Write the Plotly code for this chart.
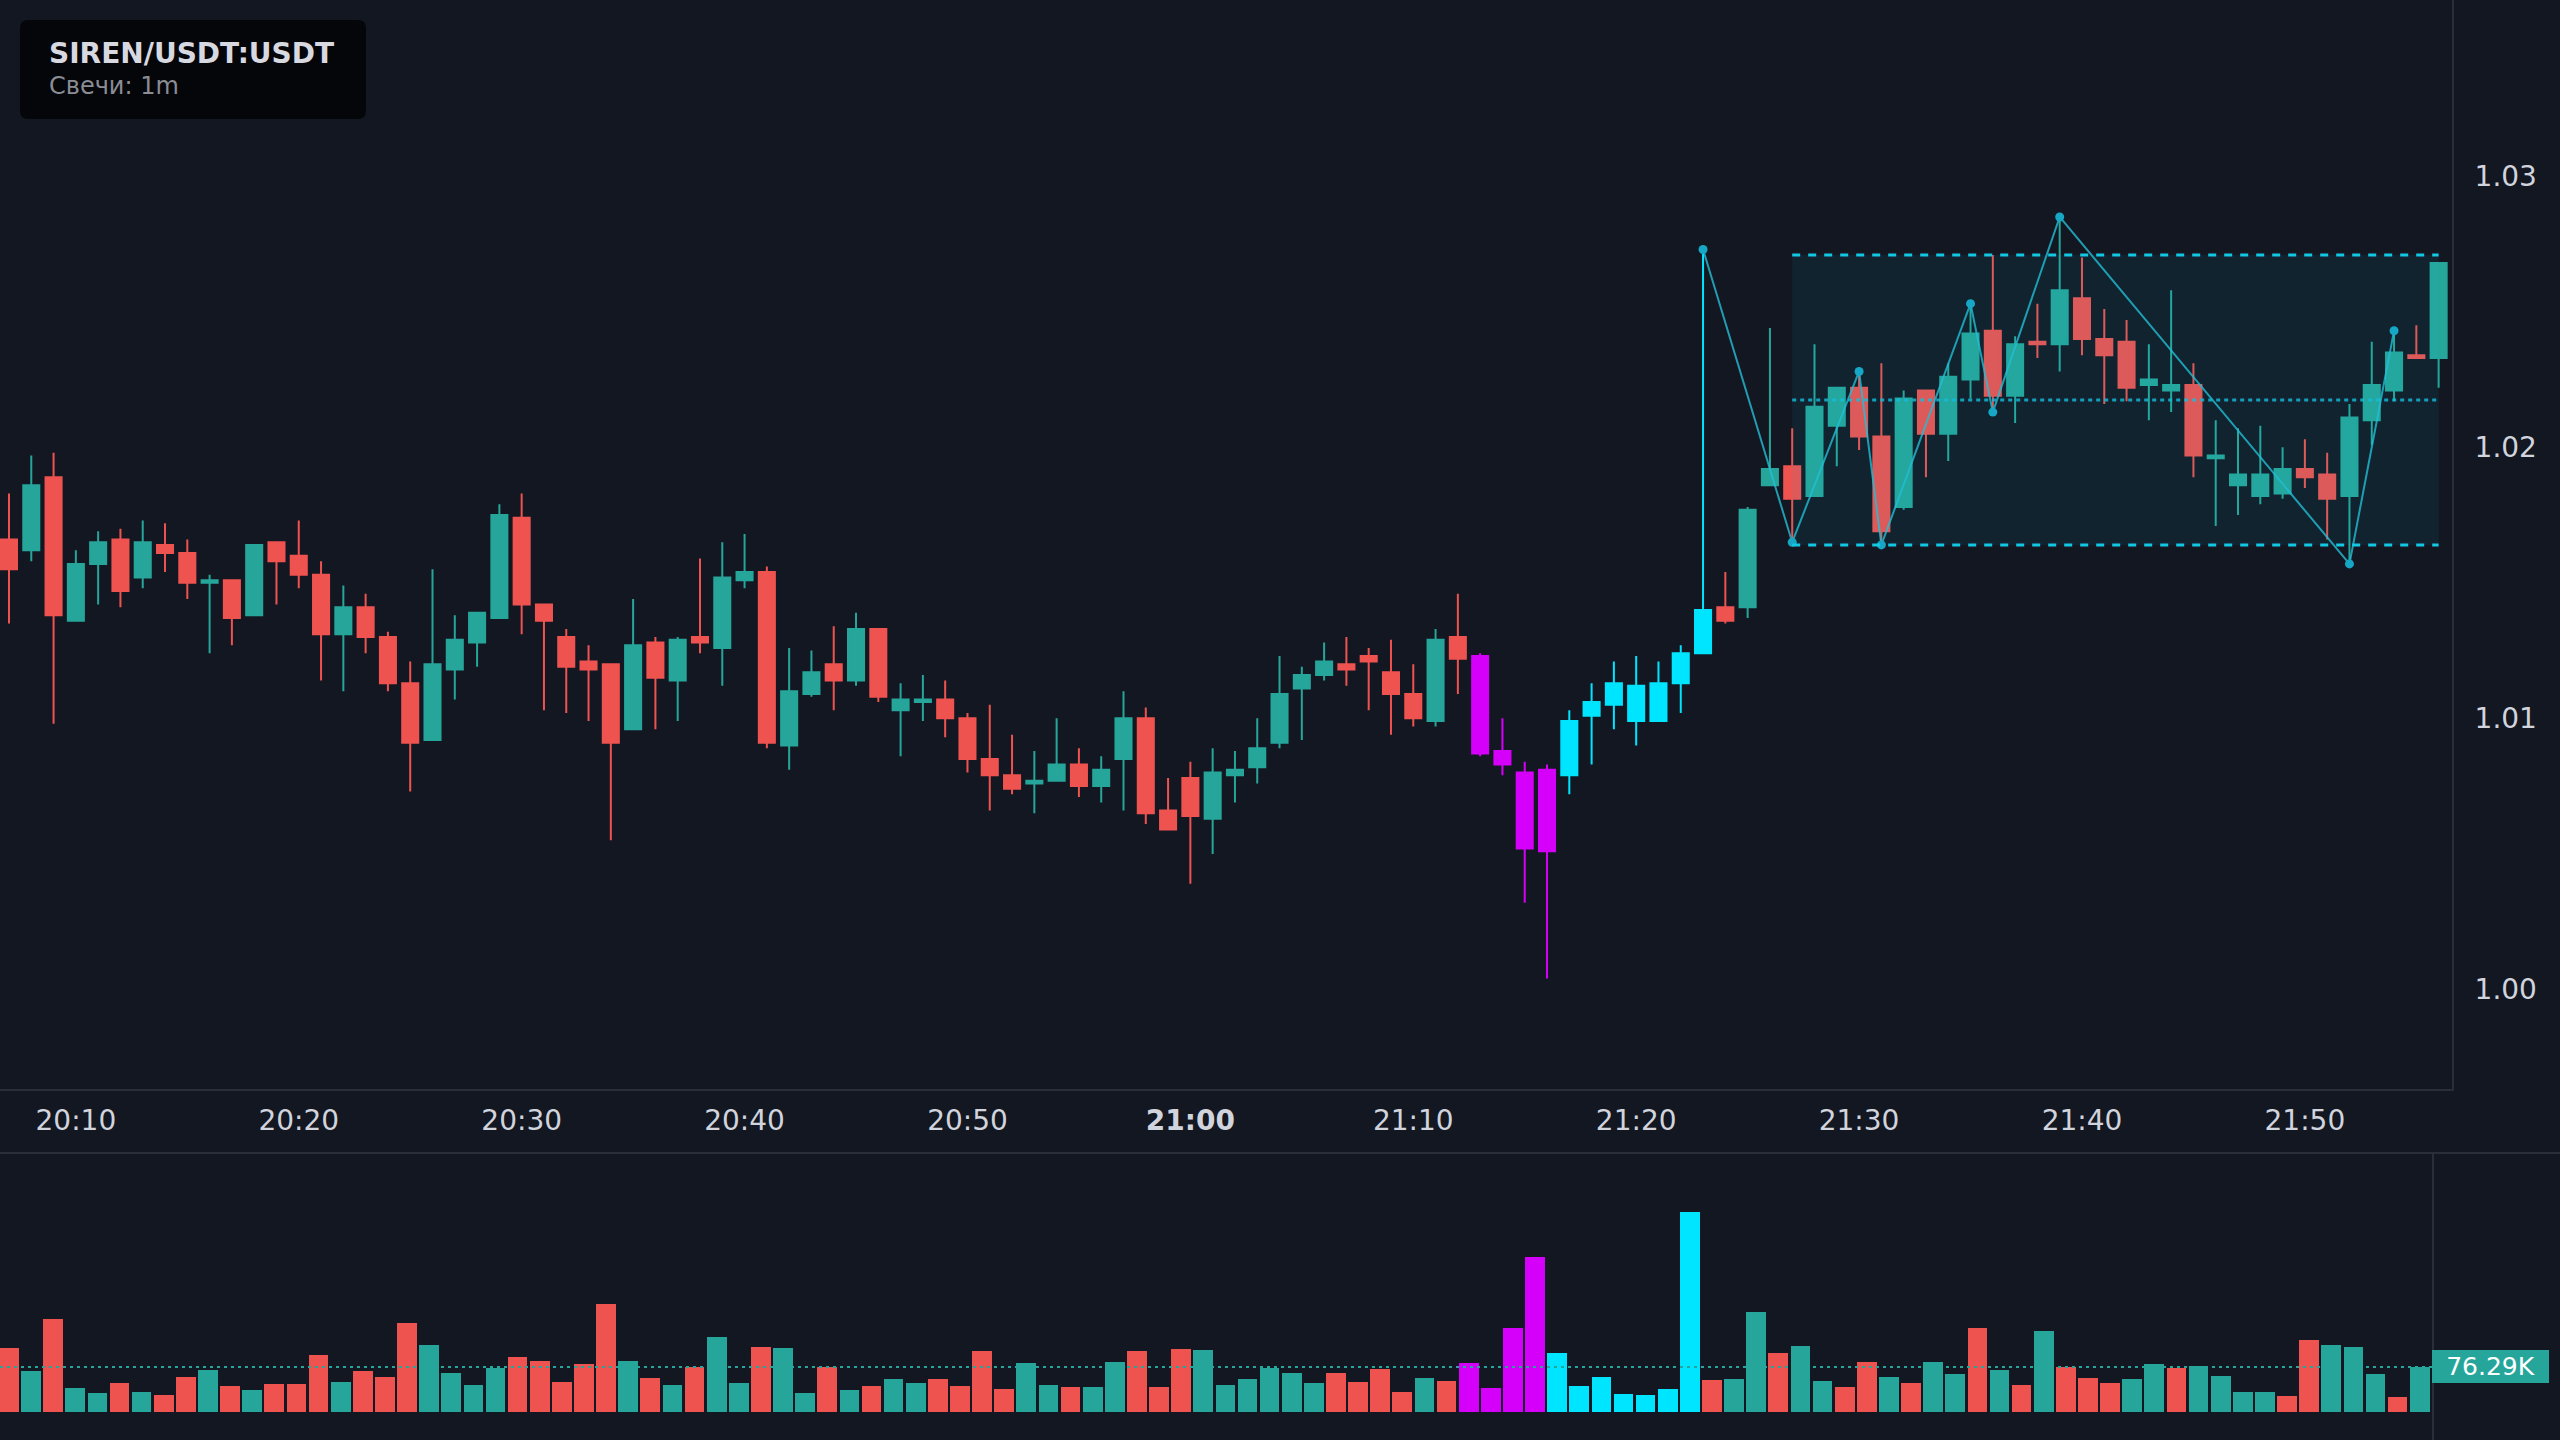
import plotly.graph_objects as go

# ---------------- data ----------------
times = [
    "20:07", "20:08", "20:09", "20:10", "20:11", "20:12", "20:13", "20:14", "20:15", "20:16",
    "20:17", "20:18", "20:19", "20:20", "20:21", "20:22", "20:23", "20:24", "20:25", "20:26",
    "20:27", "20:28", "20:29", "20:30", "20:31", "20:32", "20:33", "20:34", "20:35", "20:36",
    "20:37", "20:38", "20:39", "20:40", "20:41", "20:42", "20:43", "20:44", "20:45", "20:46",
    "20:47", "20:48", "20:49", "20:50", "20:51", "20:52", "20:53", "20:54", "20:55", "20:56",
    "20:57", "20:58", "20:59", "21:00", "21:01", "21:02", "21:03", "21:04", "21:05", "21:06",
    "21:07", "21:08", "21:09", "21:10", "21:11", "21:12", "21:13", "21:14", "21:15", "21:16",
    "21:17", "21:18", "21:19", "21:20", "21:21", "21:22", "21:23", "21:24", "21:25", "21:26",
    "21:27", "21:28", "21:29", "21:30", "21:31", "21:32", "21:33", "21:34", "21:35", "21:36",
    "21:37", "21:38", "21:39", "21:40", "21:41", "21:42", "21:43", "21:44", "21:45", "21:46",
    "21:47", "21:48", "21:49", "21:50", "21:51", "21:52", "21:53", "21:54", "21:55", "21:56",
]

opens = [
    1.0166, 1.0162, 1.0189, 1.0136, 1.0157, 1.0166, 1.0152, 1.0164, 1.0161, 1.0150,
    1.0151, 1.0138, 1.0165, 1.0160, 1.0153, 1.0131, 1.0141, 1.0130, 1.0113, 1.0092,
    1.0118, 1.0128, 1.0137, 1.0174, 1.0142, 1.0130, 1.0121, 1.0120, 1.0096, 1.0128,
    1.0114, 1.0130, 1.0126, 1.0151, 1.0154, 1.0090, 1.0109, 1.0120, 1.0114, 1.0133,
    1.0103, 1.0106, 1.0107, 1.0100, 1.0085, 1.0079, 1.0076, 1.0077, 1.0083, 1.0075,
    1.0085, 1.0100, 1.0066, 1.0078, 1.0063, 1.0079, 1.0082, 1.0091, 1.0111, 1.0116,
    1.0120, 1.0123, 1.0117, 1.0109, 1.0099, 1.0130, 1.0123, 1.0088, 1.0080, 1.0051,
    1.0079, 1.0101, 1.0105, 1.0112, 1.0099, 1.0113, 1.0124, 1.0141, 1.0141, 1.0186,
    1.0193, 1.0182, 1.0208, 1.0222, 1.0204, 1.0178, 1.0221, 1.0205, 1.0225, 1.0243,
    1.0219, 1.0239, 1.0238, 1.0255, 1.0240, 1.0239, 1.0223, 1.0221, 1.0223, 1.0196,
    1.0186, 1.0182, 1.0183, 1.0192, 1.0190, 1.0182, 1.0210, 1.0221, 1.0234, 1.0233,
]

highs = [
    1.0183, 1.0197, 1.0198, 1.0162, 1.0169, 1.0170, 1.0173, 1.0172, 1.0166, 1.0153,
    1.0151, 1.0164, 1.0165, 1.0173, 1.0158, 1.0149, 1.0146, 1.0132, 1.0121, 1.0155,
    1.0138, 1.0139, 1.0179, 1.0183, 1.0142, 1.0133, 1.0127, 1.0120, 1.0144, 1.0130,
    1.0130, 1.0159, 1.0165, 1.0168, 1.0156, 1.0126, 1.0125, 1.0134, 1.0139, 1.0133,
    1.0113, 1.0116, 1.0114, 1.0102, 1.0105, 1.0094, 1.0088, 1.0100, 1.0089, 1.0086,
    1.0110, 1.0104, 1.0078, 1.0084, 1.0089, 1.0088, 1.0100, 1.0123, 1.0119, 1.0128,
    1.0130, 1.0126, 1.0129, 1.0120, 1.0133, 1.0146, 1.0124, 1.0100, 1.0084, 1.0083,
    1.0103, 1.0113, 1.0121, 1.0123, 1.0121, 1.0127, 1.0273, 1.0154, 1.0178, 1.0244,
    1.0207, 1.0238, 1.0222, 1.0228, 1.0231, 1.0221, 1.0221, 1.0231, 1.0253, 1.0271,
    1.0241, 1.0253, 1.0285, 1.0270, 1.0251, 1.0247, 1.0238, 1.0258, 1.0231, 1.0210,
    1.0207, 1.0208, 1.0200, 1.0203, 1.0198, 1.0216, 1.0239, 1.0243, 1.0245, 1.0268,
]

lows = [
    1.0135, 1.0158, 1.0098, 1.0136, 1.0142, 1.0141, 1.0148, 1.0154, 1.0144, 1.0124,
    1.0127, 1.0138, 1.0142, 1.0148, 1.0114, 1.0110, 1.0124, 1.0110, 1.0073, 1.0092,
    1.0107, 1.0119, 1.0137, 1.0131, 1.0103, 1.0102, 1.0099, 1.0055, 1.0096, 1.0096,
    1.0099, 1.0124, 1.0112, 1.0148, 1.0089, 1.0081, 1.0108, 1.0103, 1.0112, 1.0106,
    1.0086, 1.0099, 1.0093, 1.0080, 1.0066, 1.0072, 1.0065, 1.0077, 1.0071, 1.0069,
    1.0066, 1.0061, 1.0059, 1.0039, 1.0050, 1.0069, 1.0076, 1.0089, 1.0092, 1.0114,
    1.0112, 1.0103, 1.0094, 1.0097, 1.0097, 1.0109, 1.0086, 1.0079, 1.0032, 1.0004,
    1.0072, 1.0083, 1.0096, 1.0090, 1.0099, 1.0102, 1.0124, 1.0135, 1.0137, 1.0186,
    1.0165, 1.0182, 1.0193, 1.0199, 1.0164, 1.0177, 1.0189, 1.0195, 1.0218, 1.0213,
    1.0209, 1.0233, 1.0228, 1.0234, 1.0216, 1.0217, 1.0210, 1.0213, 1.0189, 1.0171,
    1.0175, 1.0179, 1.0181, 1.0185, 1.0166, 1.0157, 1.0201, 1.0217, 1.0233, 1.0222,
]

closes = [
    1.0155, 1.0186, 1.0138, 1.0157, 1.0165, 1.0147, 1.0165, 1.0161, 1.0150, 1.0151,
    1.0137, 1.0164, 1.0158, 1.0153, 1.0131, 1.0141, 1.0130, 1.0113, 1.0091, 1.0120,
    1.0129, 1.0139, 1.0175, 1.0142, 1.0136, 1.0119, 1.0118, 1.0091, 1.0127, 1.0115,
    1.0129, 1.0128, 1.0152, 1.0154, 1.0091, 1.0110, 1.0117, 1.0114, 1.0133, 1.0108,
    1.0107, 1.0107, 1.0100, 1.0085, 1.0079, 1.0074, 1.0077, 1.0083, 1.0075, 1.0081,
    1.0100, 1.0065, 1.0059, 1.0064, 1.0080, 1.0081, 1.0089, 1.0109, 1.0116, 1.0121,
    1.0118, 1.0121, 1.0109, 1.0100, 1.0129, 1.0122, 1.0087, 1.0083, 1.0052, 1.0081,
    1.0099, 1.0106, 1.0113, 1.0099, 1.0113, 1.0124, 1.0140, 1.0136, 1.0177, 1.0192,
    1.0181, 1.0215, 1.0222, 1.0204, 1.0169, 1.0218, 1.0205, 1.0226, 1.0242, 1.0219,
    1.0238, 1.0238, 1.0258, 1.0240, 1.0234, 1.0222, 1.0225, 1.0223, 1.0197, 1.0197,
    1.0190, 1.0190, 1.0192, 1.0189, 1.0181, 1.0211, 1.0223, 1.0235, 1.0233, 1.0268,
]

volumes_k = [
    107.9, 68.9, 157.1, 40.1, 31.6, 48.6, 33.3, 28.3, 58.8, 70.6,
    43.5, 36.7, 46.9, 46.9, 96.1, 50.3, 68.9, 58.8, 150.3, 113.0,
    65.5, 45.2, 74.0, 92.7, 85.9, 50.3, 80.8, 182.5, 85.9, 57.1,
    45.2, 75.7, 126.6, 48.6, 109.6, 107.9, 31.6, 75.7, 36.7, 43.5,
    55.4, 48.6, 55.4, 43.5, 102.8, 38.4, 82.5, 45.2, 41.8, 41.8,
    84.2, 102.8, 41.8, 106.2, 104.5, 45.2, 55.4, 74.0, 65.5, 48.6,
    65.5, 50.3, 72.3, 33.3, 57.1, 52.0, 82.5, 40.1, 141.8, 262.2,
    99.4, 43.5, 58.8, 29.9, 28.3, 38.4, 339.0, 53.7, 55.4, 168.9,
    99.4, 111.3, 52.0, 41.8, 84.2, 58.8, 48.6, 84.2, 63.8, 141.8,
    70.6, 45.2, 136.7, 75.7, 57.1, 48.6, 55.4, 80.8, 74.0, 77.4,
    60.5, 33.3, 33.3, 26.6, 121.5, 113.0, 109.6, 63.8, 24.9, 76.29,
]

sell_zone = ["21:13", "21:14", "21:15", "21:16"]
buy_zone = ["21:17", "21:18", "21:19", "21:20", "21:21", "21:22", "21:23"]

pivot_times = ["21:23", "21:27", "21:30", "21:31", "21:35", "21:36", "21:39", "21:52", "21:54"]
pivot_prices = [1.0273, 1.0165, 1.0228, 1.0164, 1.0253, 1.0213, 1.0285, 1.0157, 1.0243]

box_start = "21:27"
box_end = "21:56"
box_top = 1.0271
box_bottom = 1.0164

price_ticks = [1.00, 1.01, 1.02, 1.03]
time_ticks = ["20:10", "20:20", "20:30", "20:40", "20:50", "21:00", "21:10", "21:20", "21:30", "21:40", "21:50"]
bold_tick = "21:00"
last_volume_label = "76.29K"

symbol = "SIREN/USDT:USDT"
subtitle = "Свечи: 1m"

# ---------------- style ----------------
BG = "#131722"
UP = "#26a69a"
DOWN = "#ef5350"
SELL = "#d500f9"
BUY = "#00e5ff"
AXIS_LINE = "#2a2e39"
TICK_COLOR = "#d1d4dc"
FONT = "DejaVu Sans"
W, H = 2560, 1440
DAY = "2025-01-01 "


def ts(t):
    return DAY + t + ":00"


x_all = [ts(t) for t in times]
x_range = [DAY + "20:06:35.8", DAY + "21:56:36"]

fig = go.Figure()


def add_candles(idx, up_col, down_col):
    fig.add_trace(go.Candlestick(
        x=[x_all[i] for i in idx],
        open=[opens[i] for i in idx],
        high=[highs[i] for i in idx],
        low=[lows[i] for i in idx],
        close=[closes[i] for i in idx],
        increasing=dict(line=dict(color=up_col, width=2), fillcolor=up_col),
        decreasing=dict(line=dict(color=down_col, width=2), fillcolor=down_col),
        whiskerwidth=0,
        xaxis="x", yaxis="y",
        hoverinfo="skip",
        showlegend=False,
    ))


normal_idx = [i for i, t in enumerate(times) if t not in sell_zone and t not in buy_zone]
sell_idx = [i for i, t in enumerate(times) if t in sell_zone]
buy_idx = [i for i, t in enumerate(times) if t in buy_zone]
add_candles(normal_idx, UP, DOWN)
add_candles(sell_idx, SELL, SELL)
add_candles(buy_idx, BUY, BUY)

# zigzag
fig.add_trace(go.Scatter(
    x=[ts(t) for t in pivot_times], y=pivot_prices,
    mode="lines+markers",
    line=dict(color="rgba(38,190,214,0.8)", width=2),
    marker=dict(size=9, color="#17a6c4"),
    xaxis="x", yaxis="y", hoverinfo="skip", showlegend=False,
))

# volume
vol_colors = []
for t, o, c in zip(times, opens, closes):
    if t in sell_zone:
        vol_colors.append(SELL)
    elif t in buy_zone:
        vol_colors.append(BUY)
    else:
        vol_colors.append(UP if c >= o else DOWN)

fig.add_trace(go.Bar(
    x=x_all, y=volumes_k, marker=dict(color=vol_colors, line=dict(width=0)),
    width=53400, xaxis="x2", yaxis="y2", hoverinfo="skip", showlegend=False,
))

# ---------------- shapes ----------------
def paper(px, py):
    return px / W, 1 - py / H


def rr_path(x0, y0, x1, y1, r):
    def P(x, y):
        a, b = paper(x, y)
        return f"{a:.6f},{b:.6f}"
    return (f"M {P(x0 + r, y0)} L {P(x1 - r, y0)} Q {P(x1, y0)} {P(x1, y0 + r)} "
            f"L {P(x1, y1 - r)} Q {P(x1, y1)} {P(x1 - r, y1)} L {P(x0 + r, y1)} "
            f"Q {P(x0, y1)} {P(x0, y1 - r)} L {P(x0, y0 + r)} Q {P(x0, y0)} {P(x0 + r, y0)} Z")


mid = (box_top + box_bottom) / 2
shapes = [
    dict(type="rect", xref="x", yref="y", x0=ts(box_start), x1=ts(box_end), y0=box_bottom, y1=box_top,
         fillcolor="rgba(0,188,212,0.075)", line=dict(width=0), layer="above"),
    dict(type="line", xref="x", yref="y", x0=ts(box_start), x1=ts(box_end), y0=box_top, y1=box_top,
         line=dict(color="#14c8e4", width=3, dash="8px,8px"), layer="above"),
    dict(type="line", xref="x", yref="y", x0=ts(box_start), x1=ts(box_end), y0=box_bottom, y1=box_bottom,
         line=dict(color="#14c8e4", width=3, dash="8px,8px"), layer="above"),
    dict(type="line", xref="x", yref="y", x0=ts(box_start), x1=ts(box_end), y0=mid, y1=mid,
         line=dict(color="rgba(20,190,220,0.8)", width=3, dash="4px,4px"), layer="above"),
    # separator between panes
    dict(type="line", xref="paper", yref="paper", x0=0, x1=1, y0=1 - 1153 / H, y1=1 - 1153 / H,
         line=dict(color=AXIS_LINE, width=2)),
    # volume pane right border
    dict(type="line", xref="paper", yref="paper", x0=2433 / W, x1=2433 / W, y0=0, y1=1 - 1153 / H,
         line=dict(color=AXIS_LINE, width=2)),
    # volume last-value dotted line
    dict(type="line", xref="paper", yref="y2", x0=0, x1=2433 / W, y0=volumes_k[-1], y1=volumes_k[-1],
         line=dict(color=UP, width=2, dash="3px,4px")),
    # title box
    dict(type="path", xref="paper", yref="paper", path=rr_path(20, 20, 366, 119, 8),
         fillcolor="rgba(0,0,0,0.72)", line=dict(width=0), layer="above"),
]

annotations = [
    dict(xref="paper", yref="paper", x=47 / W, y=1 - 53.5 / H, xanchor="left", yanchor="middle",
         text=f"<b>{symbol}</b>", showarrow=False, font=dict(family=FONT, size=28, color="#d8d9e0")),
    dict(xref="paper", yref="paper", x=47 / W, y=1 - 86 / H, xanchor="left", yanchor="middle",
         text=subtitle, showarrow=False, font=dict(family=FONT, size=24, color="#8a8d96")),
    dict(xref="paper", yref="y2", x=2432 / W, y=volumes_k[-1], xanchor="left", yanchor="middle",
         text=last_volume_label, showarrow=False, bgcolor=UP, bordercolor=UP, borderwidth=0,
         borderpad=2, width=113, height=29, align="center",
         font=dict(family=FONT, size=25, color="#ffffff")),
]

tick_text = [f"<b>{t}</b>" if t == bold_tick else t for t in time_ticks]

fig.update_layout(
    width=W, height=H,
    margin=dict(l=0, r=0, t=0, b=0),
    paper_bgcolor=BG, plot_bgcolor=BG,
    font=dict(family=FONT, color=TICK_COLOR),
    showlegend=False,
    hovermode=False,
    boxgap=0.28, boxgroupgap=0.0,
    bargap=0,
    xaxis=dict(
        domain=[0, 2452 / W], range=x_range, type="date", anchor="y",
        tickvals=[ts(t) for t in time_ticks], ticktext=tick_text,
        tickfont=dict(family=FONT, size=28, color=TICK_COLOR),
        ticks="outside", ticklen=5, tickcolor="rgba(0,0,0,0)",
        showgrid=False, zeroline=False,
        showline=True, linecolor=AXIS_LINE, linewidth=2,
        rangeslider=dict(visible=False), fixedrange=True,
    ),
    yaxis=dict(
        domain=[1 - 1089 / H, 1], range=[0.996325, 1.036505], side="right", anchor="x",
        tickvals=price_ticks, ticktext=[f"{v:.2f}" for v in price_ticks],
        tickfont=dict(family=FONT, size=28, color=TICK_COLOR),
        ticks="outside", ticklen=15, tickcolor="rgba(0,0,0,0)",
        showgrid=False, zeroline=False,
        showline=True, linecolor=AXIS_LINE, linewidth=2,
    ),
    xaxis2=dict(
        domain=[0, 2433 / W], range=x_range, type="date", anchor="y2",
        showticklabels=False, showgrid=False, zeroline=False, showline=False, ticks="",
    ),
    yaxis2=dict(
        domain=[0, 1 - 1153 / H], range=[-47.46, 438.5], anchor="x2",
        showticklabels=False, showgrid=False, zeroline=False, showline=False, ticks="",
    ),
    shapes=shapes,
    annotations=annotations,
)

fig.write_html("out.html")
